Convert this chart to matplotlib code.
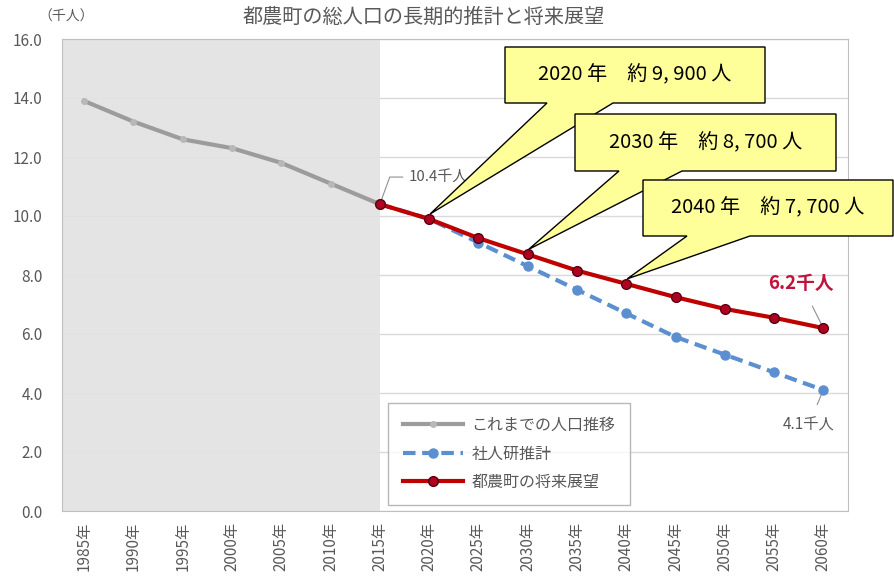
import matplotlib.pyplot as plt
import numpy as np
from matplotlib.patches import Polygon, Rectangle

plt.rcParams['font.family'] = ['Noto Sans CJK JP', 'DejaVu Sans']

years = ['1985年', '1990年', '1995年', '2000年', '2005年', '2010年', '2015年', '2020年',
         '2025年', '2030年', '2035年', '2040年', '2045年', '2050年', '2055年', '2060年']
# これまでの人口 (1985-2015)
actual = [13.9, 13.2, 12.6, 12.3, 11.8, 11.1, 10.4]
# 社人研推計 / 都農町の将来展望 (2015-2060)
ipss = [10.4, 9.9, 9.1, 8.3, 7.5, 6.7, 5.9, 5.3, 4.7, 4.1]
vision = [10.4, 9.9, 9.25, 8.7, 8.15, 7.7, 7.25, 6.85, 6.55, 6.2]

callout_years = ['2020年', '2030年', '2040年']
callout_text = ['2020 年　約 9, 900 人', '2030 年　約 8, 700 人', '2040 年　約 7, 700 人']

gray = '#9c9c9c'
blue = '#5b8fd0'
red = '#c00000'
txt = '#595959'

fig = plt.figure(figsize=(8.95, 5.76), dpi=100)
ax = fig.add_axes([62 / 895, 1 - 511 / 576, 786 / 895, 472 / 576])

x_all = np.arange(len(years))
x_act = x_all[:len(actual)]
x_fut = x_all[len(actual) - 1:]

ax.set_xlim(-0.45, 15.5)
ax.set_ylim(0, 16)
ax.set_yticks(np.arange(0, 16.1, 2))
ax.set_yticklabels(['%.1f' % v for v in np.arange(0, 16.1, 2)], color=txt, fontsize=11)
ax.set_xticks(x_all)
ax.set_xticklabels(years, rotation=90, color=txt, fontsize=11)
ax.tick_params(axis='y', length=0, pad=14)
ax.tick_params(axis='x', length=0, pad=8)
ax.grid(axis='y', color='#d9d9d9', lw=1)
ax.set_axisbelow(True)
for s in ax.spines.values():
    s.set_color('#bfbfbf')

# 実績期間の背景
ax.add_patch(Rectangle((-0.45, 0), 6.45, 16, fc='#e2e2e2', ec='none', alpha=0.9, zorder=1))

ax.plot(x_act, actual, color=gray, lw=3, marker='o', ms=4, mfc='#b8b8b8', mec='#b8b8b8',
        zorder=3, label='これまでの人口推移')
ax.plot(x_fut, ipss, color=blue, lw=3, ls=(0, (3, 1.6)), marker='o', ms=6.5, mfc=blue, mec=blue,
        zorder=3, label='社人研推計')
ax.plot(x_fut, vision, color=red, lw=3, marker='o', ms=7, mfc='#b00020', mec='#5a0010', mew=1,
        zorder=4, label='都農町の将来展望')

leg = ax.legend(loc='lower left', bbox_to_anchor=(0.415, 0.012), frameon=True, fancybox=False,
                edgecolor='#a6a6a6', fontsize=11.5, handlelength=3.8, handletextpad=0.5,
                labelspacing=0.72, borderpad=0.9, labelcolor=txt, borderaxespad=0)
leg.get_frame().set_linewidth(1)

# 数値ラベル
ax.annotate('10.4千人', xy=(x_fut[0], vision[0]), xytext=(x_fut[0] + 0.58, vision[0] + 0.92),
            color=txt, fontsize=10.8, va='center',
            arrowprops=dict(arrowstyle='-', color='#909090', lw=0.8,
                            connectionstyle='angle,angleA=0,angleB=70,rad=0', shrinkA=2, shrinkB=2))
ax.annotate('6.2千人', xy=(x_fut[-1], vision[-1]), xytext=(x_fut[-1] - 0.45, vision[-1] + 1.5),
            color='#c0143c', fontsize=13.5, fontweight='bold', ha='center', va='center',
            arrowprops=dict(arrowstyle='-', color='#909090', lw=0.8, shrinkA=8, shrinkB=3))
ax.annotate('4.1千人', xy=(x_fut[-1], ipss[-1]), xytext=(x_fut[-1] - 0.3, ipss[-1] - 1.18),
            color=txt, fontsize=11, ha='center', va='center',
            arrowprops=dict(arrowstyle='-', color='#909090', lw=0.8, shrinkA=7, shrinkB=3))

fig.text(424 / 895, 1 - 17 / 576, '都農町の総人口の長期的推計と将来展望', ha='center', va='center',
         color=txt, fontsize=14.5)
fig.text(66 / 895, 1 - 17 / 576, '（千人）', ha='center', va='center', color=txt, fontsize=10)

# 吹き出し (box: left, top, right, bottom in pixels from top-left; tail base x range)
boxes = [(505, 47, 765, 103, 547, 613),
         (575, 114, 836, 171, 619, 682),
         (643, 180, 893, 236, 687, 750)]
H = 576
to_fig = fig.transFigure.inverted()
for (l, t, r, b, t0, t1), yr, label in zip(boxes, callout_years, callout_text):
    i = years.index(yr)
    tip_disp = ax.transData.transform((i, vision[i - len(actual) + 1]))
    tip = (tip_disp[0] + 1, tip_disp[1] + 5)
    pts_disp = [(l, H - t), (r, H - t), (r, H - b), (t1, H - b), tip, (t0, H - b), (l, H - b)]
    pts = to_fig.transform(pts_disp)
    fig.patches.append(Polygon(pts, closed=True, fc='#ffff99', ec='black', lw=1,
                               transform=fig.transFigure, zorder=5))
    fig.text((l + r) / 2 / 895, 1 - (t + b) / 2 / H, label, ha='center', va='center',
             fontsize=14.5, family=['Liberation Sans Narrow', 'Noto Sans CJK JP'], zorder=6)

fig.savefig('out.png', dpi=100)
